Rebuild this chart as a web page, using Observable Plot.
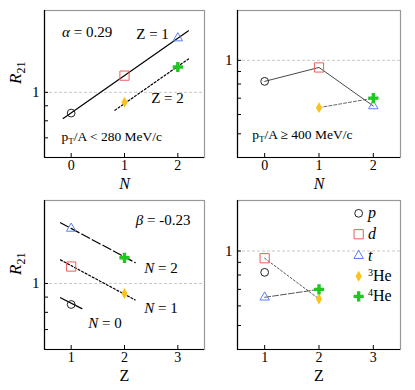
<!DOCTYPE html>
<html><head><meta charset="utf-8">
<script src="https://cdn.jsdelivr.net/npm/d3@7"></script>
<script src="https://cdn.jsdelivr.net/npm/@observablehq/plot@0.6"></script>
<style>
html,body{margin:0;padding:0;background:#fff;}
#chart{position:relative;width:415px;height:390px;overflow:hidden;background:#fff;}
#chart svg{position:absolute;}
#chart svg, #chart svg text{font-family:"Liberation Serif","DejaVu Serif",serif !important;}
</style></head><body><div id="chart"></div>
<script>
// ---- data ----
const species = ["p", "d", "t", "3He", "4He"];
const neutronN = [0, 1, 2, 1, 2];
const protonZ = [1, 1, 1, 2, 2];
const r21Low = [0.85, 1.14, 1.53, 0.925, 1.22];   // pT/A < 280 MeV/c
const r21High = [0.82, 0.935, 0.65, 0.64, 0.70];  // pT/A >= 400 MeV/c

// exponential fits (end points)
const fitZ1N = [-0.15, 2.2], fitZ1R = [0.815, 1.62];
const fitZ2N = [0.82, 2.2], fitZ2R = [0.869, 1.30];
const fitN2Z = [0.8, 2.2], fitN2R = [1.60, 1.175];
const fitN1Z = [0.8, 2.2], fitN1R = [1.20, 0.88];
const fitN0Z = [0.8, 1.2], fitN0R = [0.896, 0.823];

// connections in the high-pT panels
const highNGroups = [["p", "d", "t"], ["3He", "4He"]];
const highZGroups = [["d", "3He"], ["t", "4He"]];

const xTicksN = [0, 1, 2];
const xTicksZ = [1, 2, 3];
const yTicksLow = [0.7, 0.8, 0.9, 1];
const yTicksHigh = [0.5, 0.6, 0.7, 0.8, 0.9, 1];

// ---- styles ----
const sty = {
  "p":   {symbol: "circle",   stroke: "#222",    fill: "none",    r: 3.9},
  "d":   {symbol: "square",   stroke: "#f05a5a", fill: "none",    r: 5.2},
  "t":   {symbol: "triangle", stroke: "#5a80f0", fill: "none",    r: 3.5},
  "3He": {symbol: "diamond",  stroke: "none",    fill: "#f9c21c", r: 3.3},
  "4He": {symbol: "cross",    stroke: "none",    fill: "#1ec81e", r: 4.3}
};

const rows = species.map((s, i) => ({s, N: neutronN[i], Z: protonZ[i], lo: r21Low[i], hi: r21High[i]}));
const seg = (xs, ys) => xs.map((x, i) => ({x, y: ys[i]}));

function dots(xk, yk) {
  return species.map(s => Plot.dot(rows.filter(d => d.s === s), {
    x: xk, y: yk, symbol: sty[s].symbol, r: sty[s].r,
    stroke: sty[s].stroke, fill: sty[s].fill, strokeWidth: 1
  }));
}
function groupLines(groups, xk, yk, styles) {
  return groups.map((g, gi) => Plot.line(g.map(s => rows.find(d => d.s === s)), {x: xk, y: yk, ...styles[gi]}));
}

const chart = document.getElementById("chart");
const FONT = "'Liberation Serif', 'DejaVu Serif', serif";

function panel({left, top, width, height, mt, mr, mb, ml, xDomain, xTicks, yDomain, yTicks, xLabel, xItalic, yLabel, labelDy, marks}) {
  const p = Plot.plot({
    width, height, marginTop: mt, marginRight: mr, marginBottom: mb, marginLeft: ml,
    style: {fontFamily: FONT, fontSize: "15px", background: "transparent", color: "#000", overflow: "visible"},
    x: {domain: xDomain},
    y: {type: "log", domain: yDomain},
    marks: [
      Plot.frame({stroke: "#999", strokeWidth: 1.2}),
      Plot.ruleY([1], {stroke: "#c8c8c8", strokeDasharray: "3,2", strokeWidth: 1}),
      ...marks,
      Plot.ruleX([xDomain[0]], {stroke: "#000", strokeWidth: 1.2}),
      Plot.ruleY([yDomain[0]], {stroke: "#000", strokeWidth: 1.2}),
      Plot.axisX({ticks: xTicks, tickSize: -4, tickPadding: 7, tickFormat: d => String(d), label: null, fontSize: 14}),
      Plot.axisY({ticks: yTicks, tickSize: -4, tickPadding: 9, tickFormat: d => (d === 1 ? "1" : ""), label: null, fontSize: 15}),
      Plot.text([xLabel], {text: d => d, frameAnchor: "bottom", dy: labelDy, fontSize: 16, fontStyle: xItalic ? "italic" : "normal"}),
      ...(yLabel ? [Plot.text(["R21"], {text: d => d, frameAnchor: "left", dx: -29, rotate: -90, fontSize: 17})] : [])
    ]
  });
  p.style.left = left + "px";
  p.style.top = top + "px";
  chart.append(p);
  return p;
}

const ann = (arr, opts) => Plot.text(arr, {x: "x", y: "y", text: "t", textAnchor: "start", lineAnchor: "middle", ...opts});

// top-left
panel({
  left: 0, top: 0, width: 207, height: 195, mt: 10, mr: 3, mb: 38, ml: 44,
  xDomain: [-0.5, 2.5], xTicks: xTicksN, yDomain: [0.6, 1.9], yTicks: yTicksLow,
  xLabel: "N", xItalic: true, yLabel: true, labelDy: 31,
  marks: [
    Plot.line(seg(fitZ1N, fitZ1R), {x: "x", y: "y", stroke: "#000", strokeWidth: 1.2}),
    Plot.line(seg(fitZ2N, fitZ2R), {x: "x", y: "y", stroke: "#000", strokeWidth: 1.2, strokeDasharray: "2,2"}),
    ...dots("N", "lo"),
    ann([{x: -0.17, y: 1.60, t: "α = 0.29"}, {x: 1.22, y: 1.58, t: "Z = 1"}, {x: 1.5, y: 0.952, t: "Z = 2"}], {fontSize: 15}),
    ann([{x: -0.18, y: 0.706, t: "pT/A < 280 MeV/c"}], {fontSize: 13.5})
  ]
});

// top-right
panel({
  left: 207, top: 0, width: 208, height: 195, mt: 10, mr: 15, mb: 38, ml: 30,
  xDomain: [-0.5, 2.5], xTicks: xTicksN, yDomain: [0.4, 1.6], yTicks: yTicksHigh,
  xLabel: "N", xItalic: true, yLabel: false, labelDy: 31,
  marks: [
    ...groupLines(highNGroups, "N", "hi", [
      {stroke: "#333", strokeWidth: 0.9},
      {stroke: "#555", strokeWidth: 0.9, strokeDasharray: "3,2"}
    ]),
    ...dots("N", "hi"),
    ann([{x: -0.23, y: 0.496, t: "pT/A ≥ 400 MeV/c"}], {fontSize: 13.5})
  ]
});

// bottom-left
panel({
  left: 0, top: 195, width: 207, height: 195, mt: 5, mr: 3, mb: 41, ml: 44,
  xDomain: [0.5, 3.5], xTicks: xTicksZ, yDomain: [0.6, 1.9], yTicks: yTicksLow,
  xLabel: "Z", xItalic: false, yLabel: true, labelDy: 31,
  marks: [
    Plot.line(seg(fitN2Z, fitN2R), {x: "x", y: "y", stroke: "#000", strokeWidth: 1.2, strokeDasharray: "9,3"}),
    Plot.line(seg(fitN1Z, fitN1R), {x: "x", y: "y", stroke: "#000", strokeWidth: 1.2, strokeDasharray: "2,2"}),
    Plot.line(seg(fitN0Z, fitN0R), {x: "x", y: "y", stroke: "#000", strokeWidth: 1.2}),
    ...dots("Z", "lo"),
    ann([{x: 2.21, y: 1.63, t: "β = -0.23"}, {x: 2.37, y: 1.125, t: "N = 2"}, {x: 2.37, y: 0.823, t: "N = 1"}, {x: 1.32, y: 0.737, t: "N = 0"}], {fontSize: 15})
  ]
});

// bottom-right with legend
const legX = 2.73, legTextX = 2.90;
const legY = [1.42, 1.169, 0.957, 0.791, 0.656];
const legRows = species.map((s, i) => ({s, x: legX, y: legY[i]}));
panel({
  left: 207, top: 195, width: 208, height: 195, mt: 5, mr: 15, mb: 41, ml: 30,
  xDomain: [0.5, 3.5], xTicks: xTicksZ, yDomain: [0.4, 1.6], yTicks: yTicksHigh,
  xLabel: "Z", xItalic: false, yLabel: false, labelDy: 31,
  marks: [
    ...groupLines(highZGroups, "Z", "hi", [
      {stroke: "#444", strokeWidth: 0.9, strokeDasharray: "2,2"},
      {stroke: "#444", strokeWidth: 0.9, strokeDasharray: "6,2"}
    ]),
    ...dots("Z", "hi"),
    ...species.map(s => Plot.dot(legRows.filter(d => d.s === s), {
      x: "x", y: "y", symbol: sty[s].symbol, r: sty[s].r, stroke: sty[s].stroke, fill: sty[s].fill, strokeWidth: 1
    })),
    Plot.text(legRows.filter(d => d.s.length === 1), {x: () => legTextX, y: "y", text: "s", textAnchor: "start", lineAnchor: "middle", fontSize: 16, fontStyle: "italic"}),
    Plot.text(legRows.filter(d => d.s.length > 1), {x: () => legTextX, y: "y", text: "s", textAnchor: "start", lineAnchor: "middle", fontSize: 16})
  ]
});

// rich text (italics, sub/superscripts)
const rich = {
  "R21": '<tspan font-style="italic">R</tspan><tspan dy="4" font-size="12">21</tspan>',
  "α = 0.29": '<tspan font-style="italic">α</tspan> = 0.29',
  "β = -0.23": '<tspan font-style="italic">β</tspan> = -0.23',
  "N = 0": '<tspan font-style="italic">N</tspan> = 0',
  "N = 1": '<tspan font-style="italic">N</tspan> = 1',
  "N = 2": '<tspan font-style="italic">N</tspan> = 2',
  "pT/A < 280 MeV/c": 'p<tspan dy="3" font-size="9">T</tspan><tspan dy="-3">/A &lt; 280 MeV/c</tspan>',
  "pT/A ≥ 400 MeV/c": 'p<tspan dy="3" font-size="9">T</tspan><tspan dy="-3">/A ≥ 400 MeV/c</tspan>',
  "3He": '<tspan dy="-5" font-size="10">3</tspan><tspan dy="5">He</tspan>',
  "4He": '<tspan dy="-5" font-size="10">4</tspan><tspan dy="5">He</tspan>'
};
d3.select(chart).selectAll("text").each(function () {
  const t = this.textContent;
  if (rich[t] !== undefined && this.children.length === 0) this.innerHTML = rich[t];
});
d3.select(chart).selectAll("svg, text, tspan").style("font-family", FONT);
</script></body></html>
